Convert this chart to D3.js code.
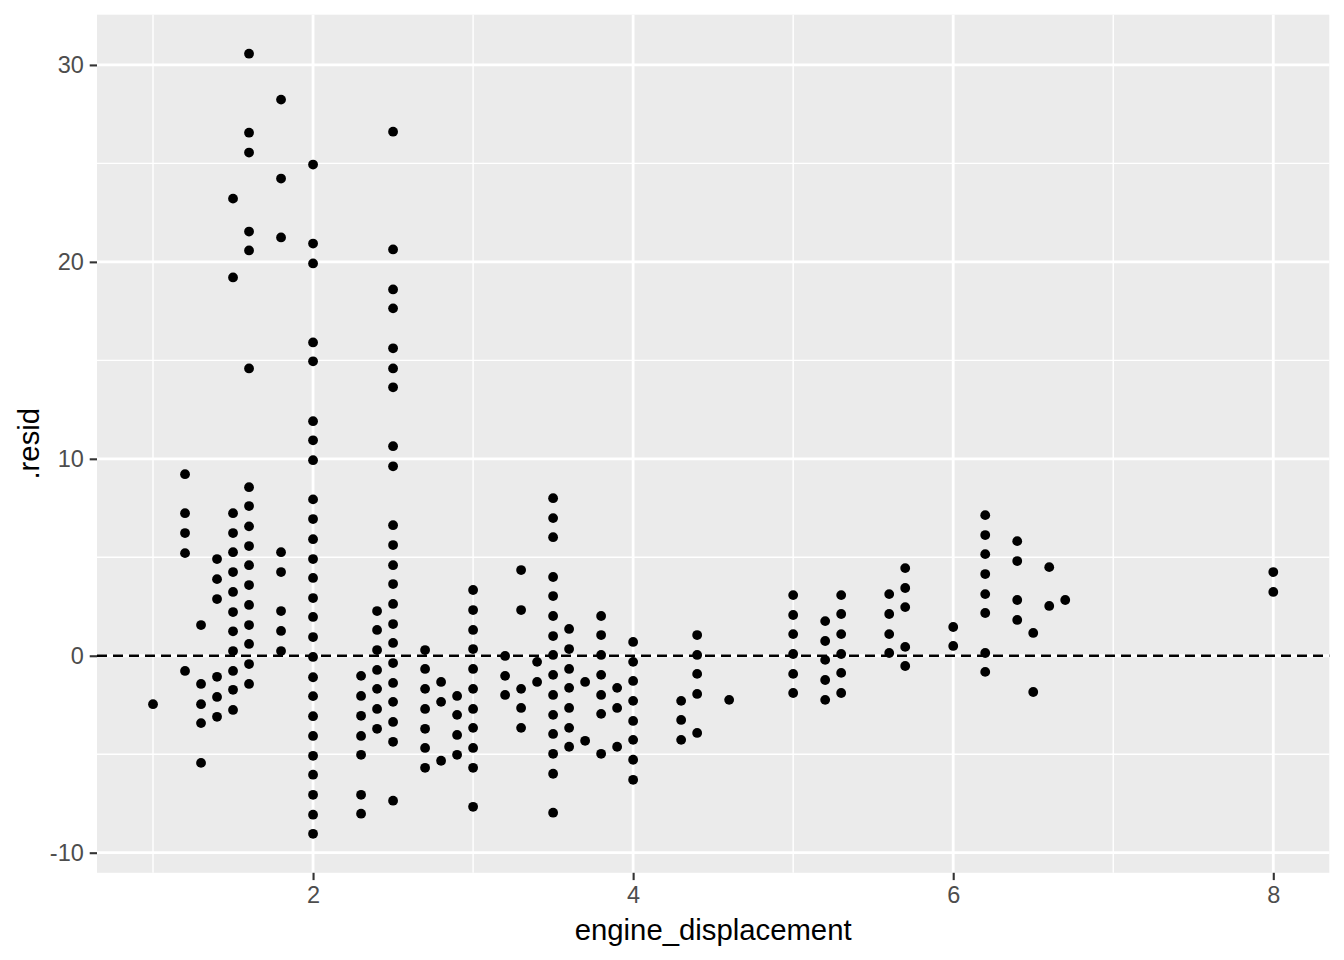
<!DOCTYPE html>
<html>
<head>
<meta charset="utf-8">
<script src="https://cdn.jsdelivr.net/npm/d3@7"></script>
<style>
  html, body { margin: 0; padding: 0; background: #ffffff; }
  svg { display: block; }
</style>
</head>
<body>
<svg id="chart" width="1344" height="960"></svg>
<script>
// ---- data ----
const displColumns = [1.0, 1.2, 1.3, 1.4, 1.5, 1.6, 1.8, 2.0, 2.3, 2.4, 2.5, 2.7, 2.8, 2.9, 3.0,
  3.2, 3.3, 3.4, 3.5, 3.6, 3.7, 3.8, 3.9, 4.0, 4.3, 4.4, 4.6, 5.0, 5.2, 5.3, 5.6, 5.7,
  6.0, 6.2, 6.4, 6.5, 6.6, 6.7, 8.0];

const residByColumn = [
  [-2.46],
  [9.22, 7.24, 6.23, 5.21, -0.77],
  [1.56, -1.43, -2.46, -3.42, -5.44],
  [4.91, 3.89, 2.88, -1.07, -2.09, -3.10],
  [23.21, 19.21, 7.24, 6.23, 5.26, 4.25, 3.24, 2.22, 1.24, 0.24, -0.77, -1.73, -2.75],
  [30.57, 26.56, 25.55, 21.54, 20.58, 14.59, 8.56, 7.60, 6.57, 5.57, 4.60, 3.59, 2.58, 1.56, 0.60, -0.42, -1.43],
  [28.24, 24.23, 21.24, 5.26, 4.25, 2.27, 1.26, 0.24],
  [24.94, 20.93, 19.92, 15.91, 14.95, 11.91, 10.94, 9.93, 7.94, 6.94, 5.92, 4.91, 3.95, 2.93, 1.97, 0.95,
   -0.06, -1.09, -2.05, -3.07, -4.07, -5.08, -6.04, -7.06, -8.07, -9.04],
  [-1.02, -2.04, -3.05, -4.07, -5.03, -7.06, -8.02],
  [2.27, 1.31, 0.29, -0.72, -1.68, -2.70, -3.71],
  [26.61, 20.63, 18.60, 17.64, 15.61, 14.59, 13.63, 10.64, 9.62, 6.63, 5.62, 4.60, 3.64, 2.63, 1.61, 0.65,
   -0.37, -1.38, -2.34, -3.36, -4.37, -7.36],
  [0.29, -0.67, -1.68, -2.70, -3.71, -4.68, -5.69],
  [-1.33, -2.34, -5.33],
  [-2.04, -3.00, -4.02, -5.03],
  [3.34, 2.32, 1.31, 0.34, -0.67, -1.68, -2.70, -3.66, -4.68, -5.69, -7.67],
  [-0.01, -1.02, -1.99],
  [4.35, 2.32, -1.68, -2.65, -3.66],
  [-0.31, -1.33],
  [8.00, 6.99, 6.02, 4.00, 3.03, 2.02, 1.00, 0.04, -0.97, -1.99, -3.00, -3.97, -4.98, -5.99, -7.97],
  [1.36, 0.34, -0.67, -1.63, -2.65, -3.66, -4.62],
  [-1.33, -4.32],
  [2.02, 1.05, 0.04, -0.97, -1.99, -2.95, -4.98],
  [-1.63, -2.65, -4.62],
  [0.70, -0.31, -1.28, -2.29, -3.31, -4.27, -5.28, -6.30],
  [-2.29, -3.26, -4.27],
  [1.05, 0.04, -0.92, -1.94, -3.92],
  [-2.24],
  [3.08, 2.07, 1.10, 0.09, -0.92, -1.89],
  [1.76, 0.75, -0.21, -1.23, -2.24],
  [3.08, 2.12, 1.10, 0.09, -0.87, -1.89],
  [3.13, 2.12, 1.10, 0.14],
  [4.45, 3.44, 2.47, 0.45, -0.52],
  [1.46, 0.50],
  [7.14, 6.13, 5.16, 4.15, 3.13, 2.17, 0.14, -0.82],
  [5.82, 4.81, 2.83, 1.82],
  [1.16, -1.84],
  [4.50, 2.53],
  [2.83],
  [4.25, 3.24]
];

const xTicks = [2, 4, 6, 8];
const xMinorTicks = [1, 3, 5, 7];
const yTicks = [-10, 0, 10, 20, 30];
const yMinorTicks = [-5, 5, 15, 25];
const xLabel = "engine_displacement";
const yLabel = ".resid";
const refLine = 0;

// flatten into points
const points = [];
displColumns.forEach((dx, i) => residByColumn[i].forEach(r => points.push({ x: dx, y: r })));

// ---- layout ----
const W = 1344, H = 960;
const margin = { top: 14.7, right: 14.7, bottom: 87.2, left: 97 };
const pw = W - margin.left - margin.right;
const ph = H - margin.top - margin.bottom;

function expand(ext) {
  const d = (ext[1] - ext[0]) * 0.05;
  return [ext[0] - d, ext[1] + d];
}

const x = d3.scaleLinear().domain(expand(d3.extent(points, d => d.x))).range([0, pw]);
const y = d3.scaleLinear().domain(expand(d3.extent(points, d => d.y))).range([ph, 0]);

const svg = d3.select("#chart");
const g = svg.append("g").attr("transform", `translate(${margin.left},${margin.top})`);

// panel background
g.append("rect").attr("width", pw).attr("height", ph).attr("fill", "#EBEBEB");

// minor grid
g.selectAll(".xminor").data(xMinorTicks).join("line")
  .attr("x1", d => x(d)).attr("x2", d => x(d)).attr("y1", 0).attr("y2", ph)
  .attr("stroke", "#ffffff").attr("stroke-width", 1.4);
g.selectAll(".yminor").data(yMinorTicks).join("line")
  .attr("y1", d => y(d)).attr("y2", d => y(d)).attr("x1", 0).attr("x2", pw)
  .attr("stroke", "#ffffff").attr("stroke-width", 1.4);
// major grid
g.selectAll(".xmajor").data(xTicks).join("line")
  .attr("x1", d => x(d)).attr("x2", d => x(d)).attr("y1", 0).attr("y2", ph)
  .attr("stroke", "#ffffff").attr("stroke-width", 2.8);
g.selectAll(".ymajor").data(yTicks).join("line")
  .attr("y1", d => y(d)).attr("y2", d => y(d)).attr("x1", 0).attr("x2", pw)
  .attr("stroke", "#ffffff").attr("stroke-width", 2.8);

// points
g.selectAll("circle").data(points).join("circle")
  .attr("cx", d => x(d.x)).attr("cy", d => y(d.y)).attr("r", 4.9)
  .attr("fill", "#000000");

// dashed reference line
g.append("line")
  .attr("x1", 0).attr("x2", pw).attr("y1", y(refLine)).attr("y2", y(refLine))
  .attr("stroke", "#000000").attr("stroke-width", 2.6).attr("stroke-dasharray", "10,6");

// axes
const fontFam = "Arial, 'Liberation Sans', Helvetica, sans-serif";
const xAxis = g.append("g").attr("transform", `translate(0,${ph})`)
  .call(d3.axisBottom(x).tickValues(xTicks).tickFormat(d3.format("d")).tickSize(7.3).tickPadding(5.9));
const yAxis = g.append("g")
  .call(d3.axisLeft(y).tickValues(yTicks).tickFormat(d3.format("d")).tickSize(7.3).tickPadding(5.9));
[xAxis, yAxis].forEach(a => {
  a.select(".domain").remove();
  a.selectAll(".tick line").attr("stroke", "#333333").attr("stroke-width", 2.1);
  a.selectAll(".tick text").attr("fill", "#4D4D4D").style("font-family", fontFam).style("font-size", "23.5px");
});
yAxis.selectAll(".tick text").text(d => d < 0 ? "-" + Math.abs(d) : d);

// axis titles
svg.append("text")
  .attr("x", margin.left + pw / 2).attr("y", 940)
  .attr("text-anchor", "middle")
  .style("font-family", fontFam).style("font-size", "29.3px").attr("fill", "#000000")
  .text(xLabel);
svg.append("text")
  .attr("transform", `translate(39,${margin.top + ph / 2}) rotate(-90)`)
  .attr("text-anchor", "middle")
  .style("font-family", fontFam).style("font-size", "29.3px").attr("fill", "#000000")
  .text(yLabel);
</script>
</body>
</html>
